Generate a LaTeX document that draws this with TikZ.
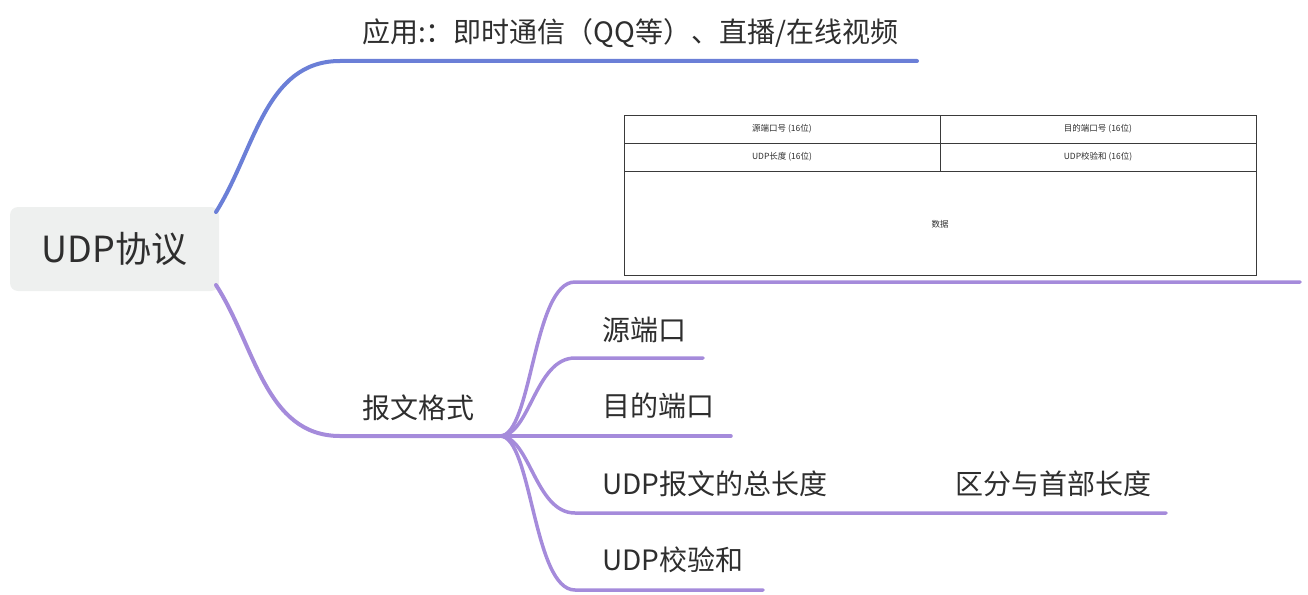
\documentclass[tikz,border=0pt]{standalone}
\usepackage{fontspec}
\setmainfont{Noto Sans CJK SC}
\definecolor{bluebr}{HTML}{6B7FD7}
\definecolor{purbr}{HTML}{A58BDB}
\definecolor{txt}{HTML}{2E2E2E}
\definecolor{rootbg}{HTML}{EEF0EF}
\definecolor{tblline}{HTML}{3A3A3A}
\tikzset{
  lbl/.style={anchor=west,inner sep=0pt,text=txt,font=\fontsize{28}{28}\selectfont,text height=0.88em,text depth=0.12em},
  tbl/.style={inner sep=0pt,text=txt,font=\fontsize{8.5}{8.5}\selectfont},
  brb/.style={draw=bluebr,line width=4pt,line cap=round},
  brp/.style={draw=purbr,line width=4pt,line cap=round},
  brs/.style={draw=purbr,line width=3.5pt,line cap=round},
}
\begin{document}
\begin{tikzpicture}[x=1pt,y=-1pt]
\useasboundingbox (0,0) rectangle (1308,594);
% root
\node[fill=rootbg,rounded corners=8pt,minimum width=209pt,minimum height=84pt,inner sep=0pt,text=txt,font=\fontsize{36}{36}\selectfont] (root) at (114.5,249) {UDP协议};
% coordinates
\coordinate (rtop) at (216,212);
\coordinate (rbot) at (216,285);
\coordinate (appS) at (340,61);
\coordinate (appE) at (917,61);
\coordinate (fmtS) at (340,436);
\coordinate (hub) at (500,436);
% top branch
\node[lbl] (app) at (362,39) {应用:：即时通信（QQ等）、直播/在线视频};
\draw[brb] (rtop) .. controls (255,150) and (265,61) .. (appS) -- (appE);
% bottom branch
\node[lbl] (fmt) at (362,415) {报文格式};
\draw[brp] (rbot) .. controls (255,345) and (265,436) .. (fmtS) -- (hub);
% children
\node[lbl] (src) at (602,337) {源端口};
\node[lbl] (dst) at (602,413) {目的端口};
\node[lbl] (len) at (602,491) {UDP报文的总长度};
\node[lbl] (lenx) at (955,491) {区分与首部长度};
\node[lbl] (chk) at (602,567) {UDP校验和};
\coordinate (tE) at (1300,282);
\coordinate (srcE) at (703,358);
\coordinate (dstE) at (731,436);
\coordinate (lenE) at (1166,513);
\coordinate (chkE) at (763,590);
\draw[brs] (hub) .. controls (532,436) and (533,282) .. (575,282) -- (tE);
\draw[brs] (hub) .. controls (530,436) and (535,358) .. (575,358) -- (srcE);
\draw[brs] (hub) -- (dstE);
\draw[brs] (hub) .. controls (530,436) and (535,513) .. (575,513) -- (lenE);
\draw[brs] (hub) .. controls (532,436) and (533,590) .. (575,590) -- (chkE);
% table
\draw[tblline,line width=1pt] (624,115) rectangle (1256,275);
\draw[tblline,line width=1pt] (624,143) -- (1256,143) (624,171) -- (1256,171) (940,115) -- (940,171);
\node[tbl] (c1) at (782,129) {源端口号 (16位)};
\node[tbl] (c2) at (1098,129) {目的端口号 (16位)};
\node[tbl] (c3) at (782,157) {UDP长度 (16位)};
\node[tbl] (c4) at (1098,157) {UDP校验和 (16位)};
\node[tbl] (c5) at (940,224) {数据};
\end{tikzpicture}
\end{document}
